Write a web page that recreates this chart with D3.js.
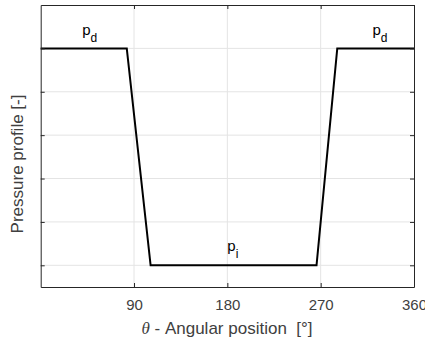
<!DOCTYPE html>
<html>
<head>
<meta charset="utf-8">
<script src="https://cdn.jsdelivr.net/npm/d3@7"></script>
<style>
  html, body { margin: 0; padding: 0; background: #fff; }
  svg { display: block; font-family: "Liberation Sans", Arial, sans-serif; }
</style>
</head>
<body>
<svg id="chart" width="425" height="342"></svg>
<script>
// ---- data ----
const angles = [0, 83, 106, 266, 286, 360];
const pressure = [5, 5, 0, 0, 5, 5];
const xTicks = [90, 180, 270, 360];
const yTicks = [0, 1, 2, 3, 4, 5];
const labelSubs = ["d", "i", "d"];
const labelX = [40, 180, 320];
const labelY = [5.31, 0.33, 5.31];
const xLabel = " - Angular position  [°]";
const yLabel = "Pressure profile [-]";

// ---- layout ----
const svg = d3.select("#chart");
const L = 40.7, R = 414, T = 5, B = 287;
const x = d3.scaleLinear().domain([0, 360]).range([L, R]);
const y = d3.scaleLinear().domain([-0.5, 6]).range([B, T]);
const axisColor = "#262626";
const textColor = "#404040";

// grid
const g = svg.append("g");
g.selectAll("line.gx").data(xTicks.filter(d => d < 360)).enter().append("line")
  .attr("x1", d => x(d)).attr("x2", d => x(d)).attr("y1", T).attr("y2", B)
  .attr("stroke", "#e4e4e4").attr("stroke-width", 1);
g.selectAll("line.gy").data(yTicks).enter().append("line")
  .attr("x1", L).attr("x2", R).attr("y1", d => y(d)).attr("y2", d => y(d))
  .attr("stroke", "#e4e4e4").attr("stroke-width", 1);

// data line
const line = d3.line().x((d, i) => x(angles[i])).y(d => y(d));
svg.append("path").datum(pressure)
  .attr("d", line).attr("fill", "none")
  .attr("stroke", "#000").attr("stroke-width", 2).attr("stroke-linejoin", "miter");

// axes (box with inward ticks on all sides)
const tickLen = 4;
const xb = svg.append("g").attr("transform", `translate(0,${B})`)
  .call(d3.axisBottom(x).tickValues(xTicks).tickSizeInner(-tickLen).tickSizeOuter(0).tickPadding(12));
const xt = svg.append("g").attr("transform", `translate(0,${T})`)
  .call(d3.axisTop(x).tickValues(xTicks).tickSizeInner(-tickLen).tickSizeOuter(0).tickFormat(""));
const yl = svg.append("g").attr("transform", `translate(${L},0)`)
  .call(d3.axisLeft(y).tickValues(yTicks).tickSizeInner(-tickLen).tickSizeOuter(0).tickFormat(""));
const yr = svg.append("g").attr("transform", `translate(${R},0)`)
  .call(d3.axisRight(y).tickValues(yTicks).tickSizeInner(-tickLen).tickSizeOuter(0).tickFormat(""));
[xb, xt, yl, yr].forEach(a => {
  a.select(".domain").attr("stroke", axisColor).attr("stroke-width", 1);
  a.selectAll(".tick line").attr("stroke", axisColor);
});
xb.selectAll(".tick text").attr("fill", textColor)
  .style("font-size", "15px").style("font-family", "'Liberation Sans', Arial, sans-serif");

// in-plot labels p_d, p_i
labelSubs.forEach((s, i) => {
  const t = svg.append("text")
    .attr("x", x(labelX[i])).attr("y", y(labelY[i]))
    .attr("fill", "#000").style("font-size", "15px");
  t.append("tspan").text("p");
  t.append("tspan").attr("dy", 7).style("font-size", "12px").text(s);
});

// x label
const xl = svg.append("text")
  .attr("x", 227).attr("y", 334)
  .attr("text-anchor", "middle").attr("fill", textColor)
  .style("font-size", "17px").style("white-space", "pre");
xl.append("tspan").style("font-family", "'Liberation Serif', 'DejaVu Serif', serif")
  .style("font-style", "italic").text("θ");
xl.append("tspan").style("white-space", "pre").text(xLabel);

// y label
svg.append("text")
  .attr("transform", `translate(23,${(T + B) / 2 + 18}) rotate(-90)`)
  .attr("text-anchor", "middle").attr("fill", textColor)
  .style("font-size", "17px").text(yLabel);
</script>
</body>
</html>
